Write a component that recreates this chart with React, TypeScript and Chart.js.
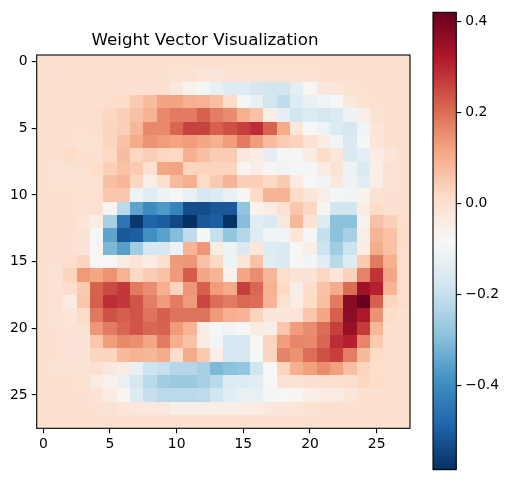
import React, { useEffect, useRef } from 'react';
import Chart from 'chart.js/auto';

const VMIN = -0.585;
const VMAX = 0.42;
const xTicks = [0, 5, 10, 15, 20, 25];
const yTicks = [0, 5, 10, 15, 20, 25];
const cbarTicks = [-0.4, -0.2, 0, 0.2, 0.4];
const rdbuStops = ['#053061', '#2166ac', '#4393c3', '#92c5de', '#d1e5f0', '#f7f7f7', '#fddbc7', '#f4a582', '#d6604d', '#b2182b', '#67001f'];

// 28x28 weights, row = y index, col = x index
const weights: number[][] = [
  [0, 0, 0, 0, 0, 0, 0, 0, 0, 0, 0, 0, 0, 0, 0, 0, 0, 0, 0, 0, 0, 0, 0, 0, 0, 0, 0, 0],
  [0, 0, 0, 0, 0, 0, 0, 0, 0, 0, -0.01, -0.01, -0.02, -0.02, -0.01, -0.01, -0.01, -0.01, -0.01, -0.01, -0.01, 0, 0, 0, 0, 0, 0, 0],
  [0, 0, 0, 0, 0, 0, -0.005, -0.005, -0.005, -0.005, -0.03, -0.06, -0.09, -0.12, -0.15, -0.15, -0.17, -0.18, -0.18, -0.13, -0.07, -0.03, -0.02, -0.01, 0, 0, 0, 0],
  [0, 0, 0, 0, 0, 0.01, 0.015, 0.045, 0.076, 0.12, 0.12, 0.1, 0.095, 0.07, 0.015, -0.09, -0.12, -0.18, -0.21, -0.15, -0.12, -0.1, -0.08, -0.03, -0.01, 0, 0, 0],
  [0, 0, 0, 0, 0.01, 0.025, 0.04, 0.067, 0.095, 0.16, 0.18, 0.18, 0.215, 0.175, 0.155, 0.1, 0.065, -0.05, -0.13, -0.18, -0.15, -0.17, -0.16, -0.11, -0.05, -0.01, 0, 0],
  [0, 0, 0, 0, 0.01, 0.03, 0.04, 0.085, 0.16, 0.16, 0.21, 0.26, 0.26, 0.22, 0.24, 0.265, 0.29, 0.215, 0.105, -0.02, -0.08, -0.11, -0.15, -0.17, -0.1, -0.02, 0, 0],
  [0, 0, 0, -0.01, 0, 0.03, 0.065, 0.105, 0.145, 0.13, 0.12, 0.13, 0.115, 0.1, 0.13, 0.18, 0.13, 0.073, 0.045, 0.035, -0.01, -0.04, -0.1, -0.16, -0.09, -0.02, 0, 0],
  [0, 0, 0.015, 0, 0, 0.02, 0.073, 0.025, 0.04, 0.025, 0.02, 0.1, 0.07, 0.045, 0.045, -0.03, -0.04, -0.13, -0.09, -0.09, -0.04, 0.015, -0.02, -0.16, -0.13, -0.04, -0.02, 0],
  [0, -0.01, -0.01, -0.005, 0.015, 0.04, 0.065, 0.05, -0.005, 0.115, 0.12, 0.03, 0.03, 0.03, 0.03, -0.07, -0.05, -0.07, -0.1, -0.09, -0.09, -0.04, -0.01, -0.11, -0.16, -0.05, -0.01, 0],
  [0, -0.01, -0.01, -0.01, 0, 0.07, 0.085, 0.025, -0.05, -0.005, 0.08, 0.1, 0.015, 0.05, 0.088, 0.04, 0.04, 0.02, 0.05, -0.04, -0.08, -0.1, -0.03, -0.11, -0.14, -0.05, -0.01, 0],
  [0, 0, 0, -0.01, 0, 0.055, 0.055, -0.11, -0.14, -0.11, -0.09, -0.12, -0.17, -0.15, -0.12, -0.09, 0.015, 0.09, 0.09, 0.015, -0.02, -0.05, -0.09, -0.1, -0.06, -0.01, -0.005, 0],
  [0, 0, 0, -0.01, -0.005, -0.07, -0.22, -0.35, -0.4, -0.37, -0.42, -0.53, -0.53, -0.51, -0.51, -0.285, -0.06, -0.04, -0.01, 0.055, 0.025, -0.07, -0.18, -0.18, -0.04, 0.015, -0.005, 0],
  [0, 0, 0, -0.02, -0.04, -0.25, -0.45, -0.57, -0.488, -0.5, -0.54, -0.59, -0.51, -0.5, -0.58, -0.3, -0.14, -0.16, -0.03, 0.085, -0.01, -0.15, -0.29, -0.29, -0.06, 0.065, 0.04, 0.01],
  [0, 0, 0, -0.01, -0.09, -0.35, -0.51, -0.5, -0.39, -0.355, -0.3, -0.21, -0.09, -0.2, -0.28, -0.23, -0.15, -0.1, -0.1, -0.02, -0.09, -0.2, -0.29, -0.25, -0.05, 0.09, 0.065, 0.015],
  [0, 0, -0.005, -0.015, -0.07, -0.31, -0.36, -0.26, -0.17, -0.17, -0.11, 0.09, 0.14, -0.04, -0.11, -0.16, -0.02, -0.15, -0.16, -0.08, -0.05, -0.19, -0.26, -0.19, -0.04, 0.105, 0.065, 0.01],
  [0, -0.005, 0.01, 0.03, -0.08, -0.08, -0.04, -0.015, -0.04, -0.005, 0.135, 0.14, 0.065, 0.02, -0.11, -0.02, 0.067, -0.14, -0.16, -0.08, -0.1, -0.14, -0.22, -0.15, 0.05, 0.18, 0.1, 0.01],
  [0, -0.01, 0.03, 0.135, 0.115, 0.145, 0.095, 0.02, 0.045, 0.065, 0.135, 0.225, 0.115, 0.09, -0.06, 0.115, 0.155, 0.085, 0.005, -0.015, -0.015, 0.025, -0.02, 0.035, 0.17, 0.28, 0.115, 0.01],
  [0, -0.01, 0.01, 0.05, 0.215, 0.25, 0.275, 0.18, 0.155, 0.1, 0.03, 0.14, 0.22, 0.13, 0.105, 0.265, 0.21, 0.095, 0.02, -0.05, 0.01, 0.065, 0.105, 0.2, 0.345, 0.31, 0.09, 0.01],
  [0, -0.01, -0.04, 0.055, 0.22, 0.29, 0.275, 0.235, 0.175, 0.135, 0.18, 0.135, 0.255, 0.2, 0.18, 0.205, 0.2, 0.09, -0.01, -0.04, 0.015, 0.07, 0.18, 0.375, 0.42, 0.22, 0.03, 0.01],
  [0, -0.01, -0.02, 0.015, 0.185, 0.24, 0.22, 0.235, 0.19, 0.22, 0.19, 0.19, 0.19, 0.135, 0.1, 0.09, 0.03, -0.02, -0.02, -0.015, 0.055, 0.115, 0.22, 0.37, 0.325, 0.145, 0.015, 0],
  [0, -0.005, -0.015, -0.01, 0.14, 0.18, 0.21, 0.235, 0.21, 0.215, 0.135, 0.09, -0.04, -0.08, -0.1, -0.08, -0.04, -0.05, 0.055, 0.13, 0.155, 0.2, 0.265, 0.355, 0.27, 0.085, 0, 0],
  [0, 0, -0.015, -0.015, 0.055, 0.13, 0.16, 0.15, 0.115, 0.18, 0.1, 0.065, -0.04, -0.1, -0.17, -0.17, -0.07, 0.03, 0.13, 0.165, 0.16, 0.21, 0.29, 0.31, 0.165, 0.05, 0, 0],
  [0, 0, -0.015, -0.015, 0.03, 0.03, 0.08, 0.095, 0.085, 0.105, 0.01, 0.105, 0.05, -0.05, -0.17, -0.17, -0.09, 0.03, 0.17, 0.145, 0.2, 0.24, 0.265, 0.175, 0.08, 0.015, 0, 0],
  [0, -0.01, -0.01, -0.01, -0.005, -0.03, -0.04, -0.12, -0.19, -0.2, -0.23, -0.23, -0.25, -0.31, -0.29, -0.28, -0.18, -0.08, 0.03, 0.1, 0.125, 0.155, 0.125, 0.07, 0.03, 0.01, 0, 0],
  [0, 0, 0, -0.01, -0.04, -0.06, -0.12, -0.17, -0.22, -0.26, -0.27, -0.27, -0.25, -0.22, -0.15, -0.15, -0.14, -0.08, -0.01, -0.01, -0.005, 0, 0, 0.01, 0.025, 0.015, 0, 0],
  [0, 0, 0, -0.005, -0.015, -0.04, -0.07, -0.15, -0.2, -0.22, -0.22, -0.22, -0.215, -0.18, -0.14, -0.12, -0.12, -0.09, -0.08, -0.07, -0.05, -0.04, -0.04, -0.02, 0, 0, 0, 0],
  [0, 0, 0, 0, -0.005, -0.01, -0.02, -0.03, -0.03, -0.03, -0.05, -0.05, -0.05, -0.05, -0.05, -0.04, -0.04, -0.03, -0.02, -0.02, -0.01, 0, 0, 0, 0, 0, 0, 0],
  [0, 0, 0, 0, 0, 0, 0, 0, 0, 0, 0, 0, 0, 0, 0, 0, 0, 0, 0, 0, 0, 0, 0, 0, 0, 0, 0, 0],
];

const FONT = 'DejaVu Sans';
Chart.defaults.font.family = FONT;
Chart.defaults.color = '#000';

const stopRgb = rdbuStops.map((h) => [1, 3, 5].map((i) => parseInt(h.slice(i, i + 2), 16)));

function rdbu(t: number) {
  const tt = Math.max(0, Math.min(1, t));
  const s = tt * (stopRgb.length - 1);
  const i = Math.min(stopRgb.length - 2, Math.floor(s));
  const f = s - i;
  const a = stopRgb[i];
  const b = stopRgb[i + 1];
  const c = a.map((v, k) => Math.round(v + (b[k] - v) * f));
  return `rgb(${c[0]}, ${c[1]}, ${c[2]})`;
}

const fmtTick = (v: number) => (v < 0 ? '\u2212' : '') + Math.abs(v).toFixed(1);

const framePlugin = {
  id: 'frame',
  afterDraw(chart: any) {
    const { ctx, chartArea } = chart;
    ctx.save();
    ctx.strokeStyle = '#000';
    ctx.lineWidth = 1.1;
    ctx.strokeRect(chartArea.left, chartArea.top, chartArea.right - chartArea.left, chartArea.bottom - chartArea.top);
    ctx.restore();
  },
};

const cellPlugin = {
  id: 'cells',
  beforeDatasetsDraw(chart: any) {
    const { ctx } = chart;
    const x = chart.scales.x;
    const y = chart.scales.y;
    ctx.save();
    weights.forEach((row, r) => {
      row.forEach((v, c) => {
        const x0 = Math.round(x.getPixelForValue(c - 0.5));
        const x1 = Math.round(x.getPixelForValue(c + 0.5));
        const ya = Math.round(y.getPixelForValue(r - 0.5));
        const yb = Math.round(y.getPixelForValue(r + 0.5));
        ctx.fillStyle = rdbu((v - VMIN) / (VMAX - VMIN));
        ctx.fillRect(x0, Math.min(ya, yb), x1 - x0, Math.abs(yb - ya));
      });
    });
    ctx.restore();
  },
};

const tickFont = { family: FONT, size: 13.9 };

const HeatmapChart: React.FC = () => {
  const canvasRef = useRef<HTMLCanvasElement>(null);

  useEffect(() => {
    if (!canvasRef.current) return;
    const chart = new Chart(canvasRef.current, {
      type: 'scatter',
      data: { datasets: [{ data: [] }] },
      options: {
        responsive: false,
        animation: false,
        layout: { padding: { left: 0, right: 37, top: 0, bottom: 0 } },
        plugins: {
          legend: { display: false },
          tooltip: { enabled: false },
          title: {
            display: true,
            text: 'Weight Vector Visualization',
            color: '#000',
            font: { family: FONT, size: 16.67, weight: 'normal' },
            padding: { top: 31, bottom: 4 },
          },
        },
        scales: {
          x: {
            type: 'linear',
            min: -0.5,
            max: 27.5,
            afterBuildTicks: (s: any) => {
              s.ticks = xTicks.map((v) => ({ value: v }));
            },
            afterFit: (s: any) => {
              s.height = 53.7;
            },
            ticks: { color: '#000', font: tickFont, padding: 3, maxRotation: 0, autoSkip: false, callback: (v: any) => String(v) },
            grid: { drawOnChartArea: false, drawTicks: true, tickLength: 5, color: '#000', lineWidth: 1.1 },
            border: { display: false },
          },
          y: {
            type: 'linear',
            reverse: true,
            min: -0.5,
            max: 27.5,
            afterBuildTicks: (s: any) => {
              s.ticks = yTicks.map((v) => ({ value: v }));
            },
            afterFit: (s: any) => {
              s.width = 36.7;
            },
            ticks: { color: '#000', font: tickFont, padding: 4, autoSkip: false, callback: (v: any) => String(v) },
            grid: { drawOnChartArea: false, drawTicks: true, tickLength: 5, color: '#000', lineWidth: 1.1 },
            border: { display: false },
          },
        },
      },
      plugins: [cellPlugin, framePlugin],
    });
    return () => chart.destroy();
  }, []);

  return <canvas ref={canvasRef} width={447} height={482} style={{ position: 'absolute', left: 0, top: 0 }} />;
};

const ColorbarChart: React.FC = () => {
  const canvasRef = useRef<HTMLCanvasElement>(null);

  useEffect(() => {
    if (!canvasRef.current) return;
    const chart = new Chart(canvasRef.current, {
      type: 'bar',
      data: {
        labels: ['cbar'],
        datasets: [
          {
            data: [[VMIN, VMAX]],
            borderWidth: 0,
            barPercentage: 1,
            categoryPercentage: 1,
            backgroundColor: (ctx: any) => {
              const c = ctx.chart;
              const ys = c.scales?.y;
              if (!c.chartArea || !ys) return rdbuStops[5];
              const g = c.ctx.createLinearGradient(0, ys.getPixelForValue(VMIN), 0, ys.getPixelForValue(VMAX));
              rdbuStops.forEach((col, i) => g.addColorStop(i / (rdbuStops.length - 1), col));
              return g;
            },
          },
        ],
      },
      options: {
        responsive: false,
        animation: false,
        layout: { padding: { left: 23, right: 0, top: 10, bottom: 9.7 } },
        plugins: { legend: { display: false }, tooltip: { enabled: false } },
        scales: {
          x: { display: false },
          y: {
            type: 'linear',
            position: 'right',
            min: VMIN,
            max: VMAX,
            afterBuildTicks: (s: any) => {
              s.ticks = cbarTicks.map((v) => ({ value: v }));
            },
            afterFit: (s: any) => {
              s.width = 51.7;
            },
            ticks: { color: '#000', font: tickFont, padding: 4, autoSkip: false, callback: (v: any) => fmtTick(Number(v)) },
            grid: { drawOnChartArea: false, drawTicks: true, tickLength: 5, color: '#000', lineWidth: 1.1 },
            border: { display: false },
          },
        },
      },
      plugins: [framePlugin],
    });
    return () => chart.destroy();
  }, []);

  return <canvas ref={canvasRef} width={98} height={482} style={{ position: 'absolute', left: 410, top: 0 }} />;
};

export default function App() {
  return (
    <div style={{ position: 'fixed', left: 0, top: 0, width: 508, height: 482, background: '#fff', overflow: 'hidden' }}>
      <HeatmapChart />
      <ColorbarChart />
    </div>
  );
}
